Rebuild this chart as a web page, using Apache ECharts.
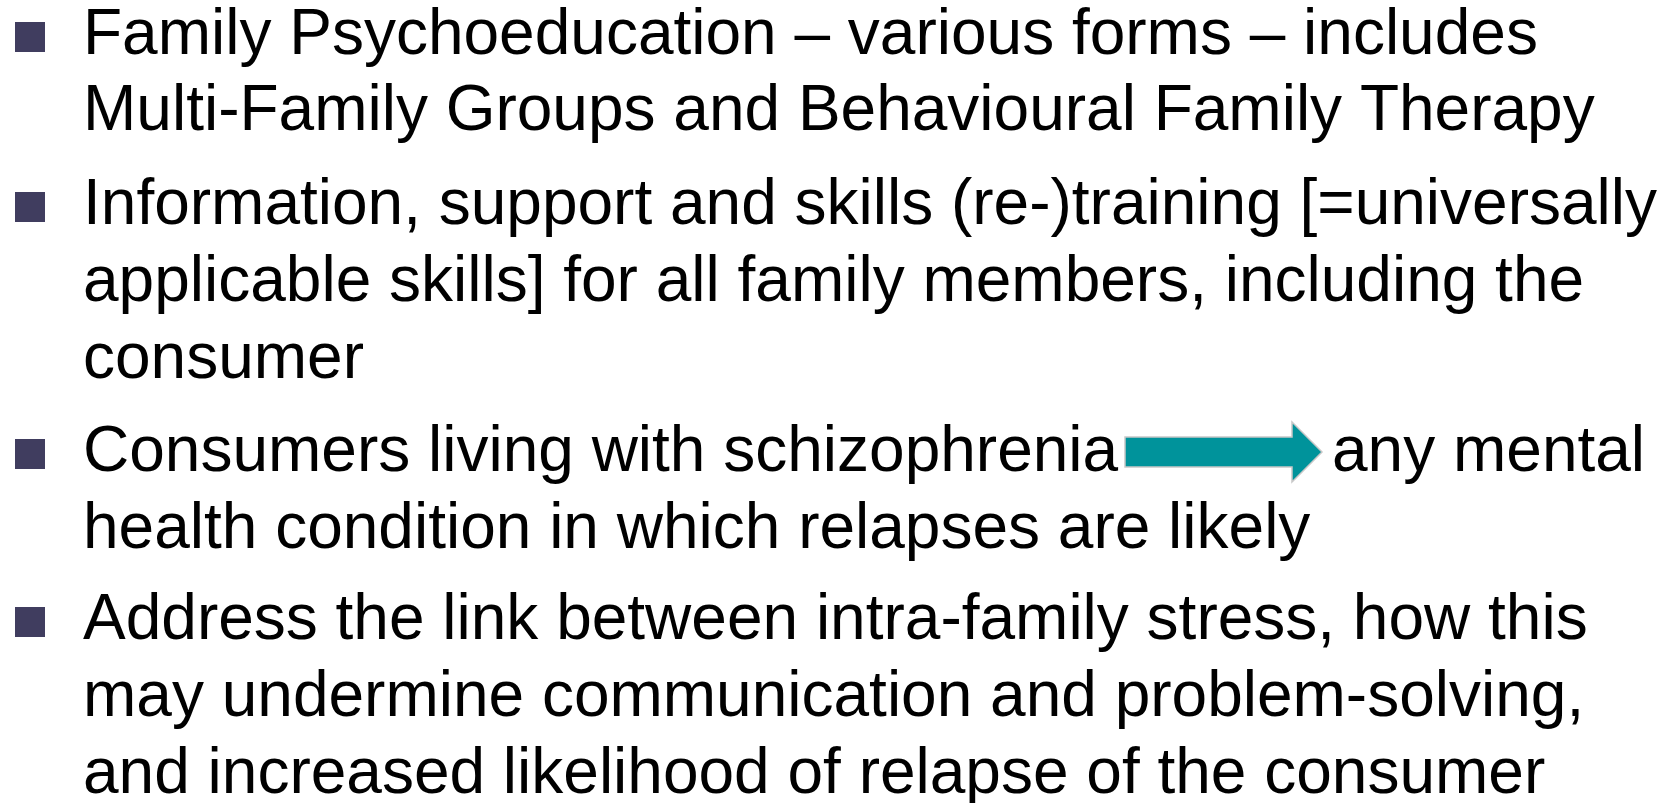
<!DOCTYPE html>
<html>
<head>
<meta charset="utf-8">
<script src="https://cdn.jsdelivr.net/npm/echarts@6/dist/echarts.min.js"></script>
<style>
  html, body { margin: 0; padding: 0; background: #fff; }
  #slide { width: 1672px; height: 803px; }
</style>
</head>
<body>
<div id="slide"></div>
<script>
// bullet paragraphs, one array per slide line
var para1 = ['Family Psychoeducation \u2013 various forms \u2013 includes',
             'Multi-Family Groups and Behavioural Family Therapy'];
var para2 = ['Information, support and skills (re-)training [=universally',
             'applicable skills] for all family members, including the',
             'consumer'];
var para3Left = 'Consumers living with schizophrenia';
var para3Right = 'any mental';
var para3 = ['health condition in which relapses are likely'];
var para4 = ['Address the link between intra-family stress, how this',
             'may undermine communication and problem-solving,',
             'and increased likelihood of relapse of the consumer'];

// baselines (px)
var baselines1 = [55, 131];
var baselines2 = [225, 302, 379];
var baselines3 = [472, 549];
var baselines4 = [640, 717, 794];

var FONT = '"Liberation Sans", Arial, sans-serif';
var SIZE = 64;
var TEXT_X = 83;
var MID = 19; // baseline -> middle offset

var chart = echarts.init(document.getElementById('slide'));

var elements = [];

function addText(str, x, baseline) {
    elements.push({
        type: 'text',
        x: x,
        y: baseline - MID,
        style: {
            text: str,
            fill: '#000',
            font: SIZE + 'px ' + FONT,
            verticalAlign: 'middle',
            align: 'left'
        }
    });
}

function addBullet(baseline) {
    elements.push({
        type: 'rect',
        shape: {x: 15, y: baseline - 33, width: 30, height: 30},
        style: {fill: '#403d5f'}
    });
}

function addPara(lines, baselines) {
    addBullet(baselines[0]);
    lines.forEach(function (l, i) { addText(l, TEXT_X, baselines[i]); });
}

addPara(para1, baselines1);
addPara(para2, baselines2);

// third bullet: text, arrow, text
addBullet(baselines3[0]);
addText(para3Left, TEXT_X, baselines3[0]);
elements.push({
    type: 'polygon',
    shape: {
        points: [[1125, 437], [1292, 437], [1292, 422], [1322, 452],
                 [1292, 482], [1292, 467], [1125, 467]]
    },
    style: {fill: '#00939b', stroke: '#c8c8c8', lineWidth: 1.5}
});
addText(para3Right, 1332, baselines3[0]);
addText(para3[0], TEXT_X, baselines3[1]);

addPara(para4, baselines4);

chart.setOption({
    backgroundColor: '#fff',
    animation: false,
    graphic: {elements: elements}
});
</script>
</body>
</html>
